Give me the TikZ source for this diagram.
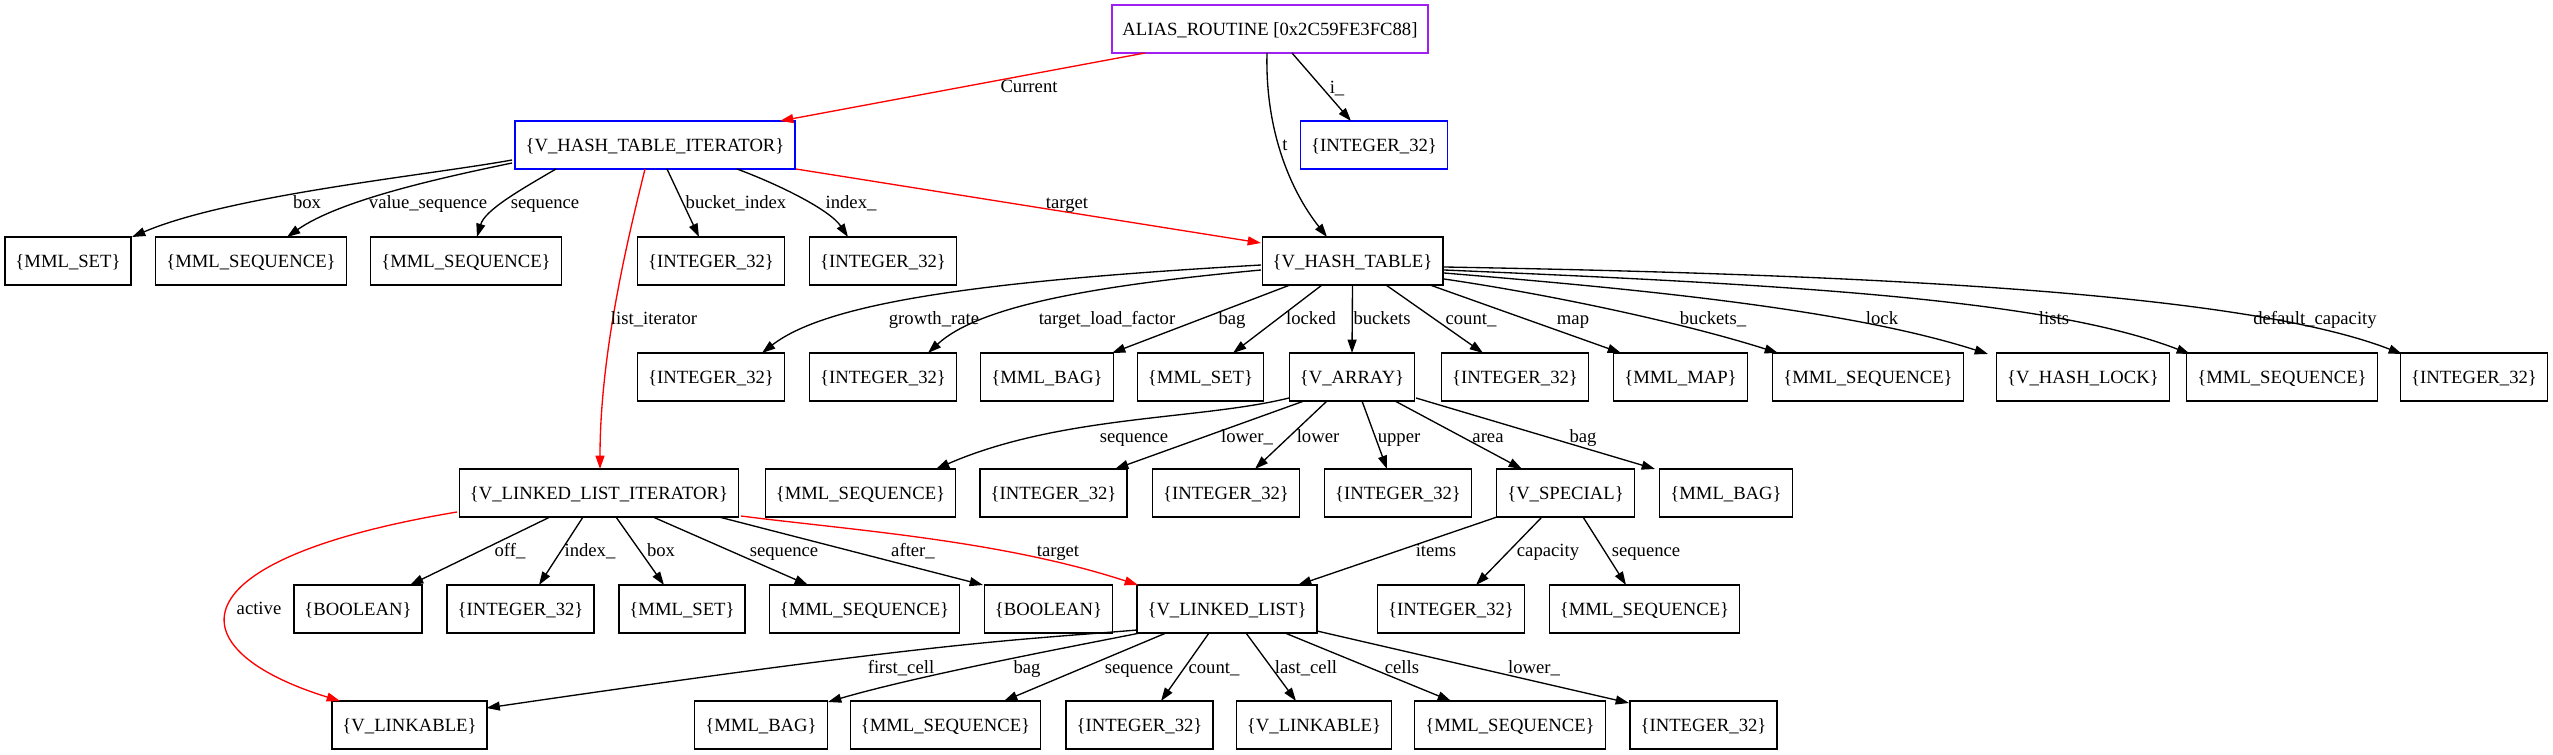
\documentclass[tikz,border=0pt]{standalone}
\usepackage{fontspec}
\setmainfont{Liberation Serif}
\usetikzlibrary{arrows.meta,calc}
\definecolor{gvpurple}{RGB}{160,32,240}
\newcommand\tbr[1]{\{#1\}}
\begin{document}
\begin{tikzpicture}[x=0.75pt,y=-0.75pt,
  box/.style={draw,rectangle,line width=1pt,minimum height=36pt,inner xsep=7.92pt,inner ysep=0pt,
    text height=9.5pt,text depth=0pt,font=\fontsize{14}{16}\selectfont},
  lbl/.style={inner sep=0pt,text=black,text height=9.5pt,text depth=0pt,font=\fontsize{14}{16}\selectfont},
  edge/.style={line width=1pt,-{Triangle[length=10pt,width=6.7pt]}},
  redge/.style={edge,red}]
\useasboundingbox[fill=white] (0,0) rectangle (2553,755);
% row 1
\node[box,draw=gvpurple] (alias) at (1270,29) {ALIAS\_ROUTINE [0x2C59FE3FC88]};
% row 2
\node[box,draw=blue] (hti) at (655,145) {\tbr{V\_HASH\_TABLE\_ITERATOR}};
\node[box,draw=blue] (inti) at (1374,145) {\tbr{INTEGER\_32}};
% row 2b
\node[box] (mset1) at (68,261) {\tbr{MML\_SET}};
\node[box] (mseq1) at (251,261) {\tbr{MML\_SEQUENCE}};
\node[box] (mseq2) at (466,261) {\tbr{MML\_SEQUENCE}};
\node[box] (int1) at (711,261) {\tbr{INTEGER\_32}};
\node[box] (int2) at (883,261) {\tbr{INTEGER\_32}};
\node[box] (vht) at (1352.5,261) {\tbr{V\_HASH\_TABLE}};
% row 3
\node[box] (int3) at (711,377) {\tbr{INTEGER\_32}};
\node[box] (int4) at (883,377) {\tbr{INTEGER\_32}};
\node[box] (mbag1) at (1047,377) {\tbr{MML\_BAG}};
\node[box] (mset2) at (1200.5,377) {\tbr{MML\_SET}};
\node[box] (varr) at (1352,377) {\tbr{V\_ARRAY}};
\node[box] (int5) at (1515,377) {\tbr{INTEGER\_32}};
\node[box] (mmap) at (1680.5,377) {\tbr{MML\_MAP}};
\node[box] (mseq3) at (1868,377) {\tbr{MML\_SEQUENCE}};
\node[box] (vhl) at (2083,377) {\tbr{V\_HASH\_LOCK}};
\node[box] (mseq4) at (2282,377) {\tbr{MML\_SEQUENCE}};
\node[box] (int6) at (2474,377) {\tbr{INTEGER\_32}};
% row 4
\node[box] (vlli) at (599,493) {\tbr{V\_LINKED\_LIST\_ITERATOR}};
\node[box] (mseq5) at (860.5,493) {\tbr{MML\_SEQUENCE}};
\node[box] (int7) at (1053.5,493) {\tbr{INTEGER\_32}};
\node[box] (int8) at (1226,493) {\tbr{INTEGER\_32}};
\node[box] (int9) at (1398,493) {\tbr{INTEGER\_32}};
\node[box] (vsp) at (1565.5,493) {\tbr{V\_SPECIAL}};
\node[box] (mbag2) at (1726,493) {\tbr{MML\_BAG}};
% row 5
\node[box] (bool1) at (358,609) {\tbr{BOOLEAN}};
\node[box] (int10) at (520.5,609) {\tbr{INTEGER\_32}};
\node[box] (mset3) at (682,609) {\tbr{MML\_SET}};
\node[box] (mseq6) at (864.5,609) {\tbr{MML\_SEQUENCE}};
\node[box] (bool2) at (1048.5,609) {\tbr{BOOLEAN}};
\node[box] (vll) at (1227,609) {\tbr{V\_LINKED\_LIST}};
\node[box] (int11) at (1451,609) {\tbr{INTEGER\_32}};
\node[box] (mseq7) at (1644.5,609) {\tbr{MML\_SEQUENCE}};
% row 6
\node[box] (vlk1) at (409.5,725) {\tbr{V\_LINKABLE}};
\node[box] (mbag3) at (761,725) {\tbr{MML\_BAG}};
\node[box] (mseq8) at (945.5,725) {\tbr{MML\_SEQUENCE}};
\node[box] (int12) at (1139.5,725) {\tbr{INTEGER\_32}};
\node[box] (vlk2) at (1314,725) {\tbr{V\_LINKABLE}};
\node[box] (mseq9) at (1510,725) {\tbr{MML\_SEQUENCE}};
\node[box] (int13) at (1703.5,725) {\tbr{INTEGER\_32}};

% ALIAS edges
\draw[redge] ($(alias)+(-125,24)$) -- ($(hti)+(125,-24)$) node[lbl,at={(1029,86)}] {Current};
\draw[edge] ($(alias)+(-3,24)$) .. controls (1265,130) and (1290,190) .. ($(vht)+(-25.5,-24)$) node[lbl,at={(1285,144)}] {t};
\draw[edge] ($(alias)+(22,24)$) -- ($(inti)+(-23,-24)$) node[lbl,at={(1337,87)}] {i\_};
% HTI edges
\draw[redge] ($(hti)+(141,24)$) -- ($(vht)+(-91.5,-18)$) node[lbl,at={(1067,202)}] {target};
\draw[edge] ($(hti)+(-143,15)$) .. controls (430,175) and (230,195) .. ($(mset1)+(64,-24)$) node[lbl,at={(307,202)}] {box};
\draw[edge] ($(hti)+(-143,18)$) .. controls (440,178) and (340,200) .. ($(mseq1)+(36,-24)$) node[lbl,at={(428,202)}] {value\_sequence};
\draw[edge] ($(hti)+(-99,24)$) .. controls (520,190) and (485,210) .. ($(mseq2)+(11,-24)$) node[lbl,at={(545,202)}] {sequence};
\draw[edge] ($(hti)+(12,24)$) -- ($(int1)+(-12,-24)$) node[lbl,at={(736,202)}] {bucket\_index};
\draw[edge] ($(hti)+(82,24)$) .. controls (780,185) and (830,210) .. ($(int2)+(-35,-24)$) node[lbl,at={(851,202)}] {index\_};
\draw[redge] ($(hti)+(-10,24)$) .. controls (630,230) and (600,350) .. ($(vlli)+(1,-24)$) node[lbl,at={(654,318)}] {list\_iterator};
% VHT edges
\draw[edge] ($(vht)+(-91.5,4)$) .. controls (1000,280) and (830,300) .. ($(int3)+(51,-24)$) node[lbl,at={(934,318)}] {growth\_rate};
\draw[edge] ($(vht)+(-91.5,9)$) .. controls (1100,285) and (980,305) .. ($(int4)+(45,-24)$) node[lbl,at={(1107,318)}] {target\_load\_factor};
\draw[edge] ($(vht)+(-62.5,24)$) -- ($(mbag1)+(65,-24)$) node[lbl,at={(1232,318)}] {bag};
\draw[edge] ($(vht)+(-30.5,24)$) -- ($(mset2)+(32.5,-24)$) node[lbl,at={(1311,318)}] {locked};
\draw[edge] ($(vht)+(0,24)$) -- ($(varr)+(0,-24)$) node[lbl,at={(1382,318)}] {buckets};
\draw[edge] ($(vht)+(33.5,24)$) -- ($(int5)+(-32,-24)$) node[lbl,at={(1471,318)}] {count\_};
\draw[edge] ($(vht)+(77.5,24)$) -- ($(mmap)+(-59.5,-24)$) node[lbl,at={(1573,318)}] {map};
\draw[edge] ($(vht)+(91.5,18)$) .. controls (1560,296) and (1690,325) .. ($(mseq3)+(-90,-24)$) node[lbl,at={(1713,318)}] {buckets\_};
\draw[edge] ($(vht)+(91.5,12)$) .. controls (1650,290) and (1850,310) .. ($(vhl)+(-95,-23)$) node[lbl,at={(1882,318)}] {lock};
\draw[edge] ($(vht)+(91.5,9)$) .. controls (1800,285) and (2050,300) .. ($(mseq4)+(-92,-23)$) node[lbl,at={(2054,318)}] {lists};
\draw[edge] ($(vht)+(91.5,6)$) .. controls (1900,275) and (2250,295) .. ($(int6)+(-72,-23)$) node[lbl,at={(2315,318)}] {default\_capacity};
% V_ARRAY edges
\draw[edge] ($(varr)+(-63,21)$) .. controls (1200,420) and (1060,415) .. ($(mseq5)+(75.5,-24)$) node[lbl,at={(1134,436)}] {sequence};
\draw[edge] ($(varr)+(-48,24)$) -- ($(int7)+(61.5,-24)$) node[lbl,at={(1247,436)}] {lower\_};
\draw[edge] ($(varr)+(-25,24)$) -- ($(int8)+(29,-24)$) node[lbl,at={(1318,436)}] {lower};
\draw[edge] ($(varr)+(10,24)$) -- ($(int9)+(-11,-24)$) node[lbl,at={(1399,436)}] {upper};
\draw[edge] ($(varr)+(43,24)$) -- ($(vsp)+(-43.5,-24)$) node[lbl,at={(1488,436)}] {area};
\draw[edge] ($(varr)+(64,21)$) -- ($(mbag2)+(-71,-24)$) node[lbl,at={(1583,436)}] {bag};
% V_SPECIAL edges
\draw[edge] ($(vsp)+(-68.5,24)$) -- ($(vll)+(71,-24)$) node[lbl,at={(1436,550)}] {items};
\draw[edge] ($(vsp)+(-23.5,24)$) -- ($(int11)+(25,-24)$) node[lbl,at={(1548,550)}] {capacity};
\draw[edge] ($(vsp)+(17.5,24)$) -- ($(mseq7)+(-18.5,-24)$) node[lbl,at={(1646,550)}] {sequence};
% VLLI edges
\draw[edge] ($(vlli)+(-49,24)$) -- ($(bool1)+(52,-24)$) node[lbl,at={(510,550)}] {off\_};
\draw[edge] ($(vlli)+(-16,24)$) -- ($(int10)+(18.5,-24)$) node[lbl,at={(590,550)}] {index\_};
\draw[edge] ($(vlli)+(17,24)$) -- ($(mset3)+(-18,-24)$) node[lbl,at={(661,550)}] {box};
\draw[edge] ($(vlli)+(54,24)$) -- ($(mseq6)+(-56.5,-24)$) node[lbl,at={(784,550)}] {sequence};
\draw[edge] ($(vlli)+(120,24)$) -- ($(bool2)+(-65.5,-24)$) node[lbl,at={(913,550)}] {after\_};
\draw[redge] ($(vlli)+(142,23)$) .. controls (850,530) and (1000,540) .. ($(vll)+(-89,-24)$) node[lbl,at={(1058,550)}] {target};
\draw[redge] ($(vlli)+(-142,19)$) .. controls (170,560) and (175,650) .. ($(vlk1)+(-69.5,-24)$) node[lbl,at={(259,608)}] {active};
% VLL edges
\draw[edge] ($(vll)+(-90,21)$) .. controls (1020,640) and (950,640) .. ($(vlk1)+(77,-17)$) node[lbl,at={(901,667)}] {first\_cell};
\draw[edge] ($(vll)+(-87,24)$) .. controls (1080,645) and (920,675) .. ($(mbag3)+(67,-23)$) node[lbl,at={(1027,667)}] {bag};
\draw[edge] ($(vll)+(-61,24)$) -- ($(mseq8)+(58.5,-24)$) node[lbl,at={(1139,667)}] {sequence};
\draw[edge] ($(vll)+(-18,24)$) -- ($(int12)+(21.5,-24)$) node[lbl,at={(1214,667)}] {count\_};
\draw[edge] ($(vll)+(19,24)$) -- ($(vlk2)+(-18,-24)$) node[lbl,at={(1306,667)}] {last\_cell};
\draw[edge] ($(vll)+(58,24)$) -- ($(mseq9)+(-59,-24)$) node[lbl,at={(1402,667)}] {cells};
\draw[edge] ($(vll)+(90,22)$) -- ($(int13)+(-74.5,-22)$) node[lbl,at={(1534,667)}] {lower\_};
\end{tikzpicture}
\end{document}
